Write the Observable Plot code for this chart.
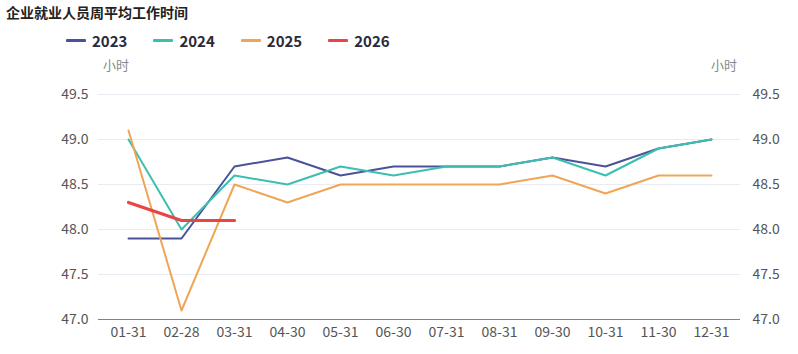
<!DOCTYPE html>
<html><head><meta charset="utf-8">
<script src="https://cdn.jsdelivr.net/npm/d3@7"></script>
<script src="https://cdn.jsdelivr.net/npm/@observablehq/plot@0.6"></script>
<style>
body{margin:0;background:#fff;font-family:"Noto Sans CJK SC","Noto Sans",sans-serif;}
#wrap{position:relative;width:798px;height:354px;}
#title{position:absolute;left:6px;top:2px;font-size:14px;font-weight:bold;color:#222;}
#legend{position:absolute;left:66px;top:30px;display:flex;font-size:15px;font-weight:bold;color:#2a2a3a;}
.li{display:flex;align-items:center;margin-right:26px;}
.sw{width:20px;height:3px;margin-right:6px;border-radius:1px;}
.unit{position:absolute;top:55px;font-size:13px;color:#888;}
</style></head>
<body><div id="wrap">
<div id="title">企业就业人员周平均工作时间</div>
<div id="legend"></div>
<div class="unit" style="left:103px">小时</div>
<div class="unit" style="left:711px">小时</div>
<div id="chart"></div>
</div>
<script>
const months = ["01-31","02-28","03-31","04-30","05-31","06-30","07-31","08-31","09-30","10-31","11-30","12-31"];
const years = ["2023","2024","2025","2026"];
const v2023 = [47.9,47.9,48.7,48.8,48.6,48.7,48.7,48.7,48.8,48.7,48.9,49.0];
const v2024 = [49.0,48.0,48.6,48.5,48.7,48.6,48.7,48.7,48.8,48.6,48.9,49.0];
const v2025 = [49.1,47.1,48.5,48.3,48.5,48.5,48.5,48.5,48.6,48.4,48.6,48.6];
const v2026 = [48.3,48.1,48.1];
const yTicks = [47.0,47.5,48.0,48.5,49.0,49.5];
const colors = ["#4b5299","#3cbfb0","#f0a556","#e84545"];

const series = [v2023,v2024,v2025,v2026];
const data = [];
series.forEach((vals,i)=>vals.forEach((v,j)=>data.push({year:years[i],month:months[j],value:v})));

const leg = document.getElementById("legend");
years.forEach((y,i)=>{
  const d=document.createElement("div");d.className="li";
  d.innerHTML=`<span class="sw" style="background:${colors[i]}"></span>${y}`;
  leg.appendChild(d);
});

const chart = Plot.plot({
  width:798, height:354,
  marginLeft:98, marginRight:58, marginTop:94, marginBottom:35,
  style:{fontFamily:"'Noto Sans CJK SC','Noto Sans',sans-serif",fontSize:"13px",color:"#555"},
  x:{type:"point", domain:months, padding:0.5, label:null},
  y:{domain:[47,49.5], label:null},
  color:{domain:years, range:colors},
  marks:[
    Plot.ruleY(yTicks.slice(1),{stroke:"#e8ebf2",strokeWidth:1}),
    Plot.ruleY([47],{stroke:"#6f7fbf",strokeWidth:1.2}),
    Plot.axisX({tickSize:0,tickPadding:8,label:null,fontSize:14,fill:"#555"}),
    Plot.axisY({anchor:"left",ticks:yTicks,tickFormat:d3.format(".1f"),tickSize:0,tickPadding:10,label:null,fontSize:14,fill:"#555"}),
    Plot.axisY({anchor:"right",ticks:yTicks,tickFormat:d3.format(".1f"),tickSize:0,tickPadding:12,label:null,fontSize:14,fill:"#555"}),
    Plot.line(data.filter(d=>d.year!=="2026"),{x:"month",y:"value",stroke:"year",z:"year",strokeWidth:2,curve:"linear"}),
    Plot.line(data.filter(d=>d.year==="2026"),{x:"month",y:"value",stroke:"year",strokeWidth:3.2,curve:"linear"})
  ]
});
document.getElementById("chart").appendChild(chart);
</script>
</body></html>
